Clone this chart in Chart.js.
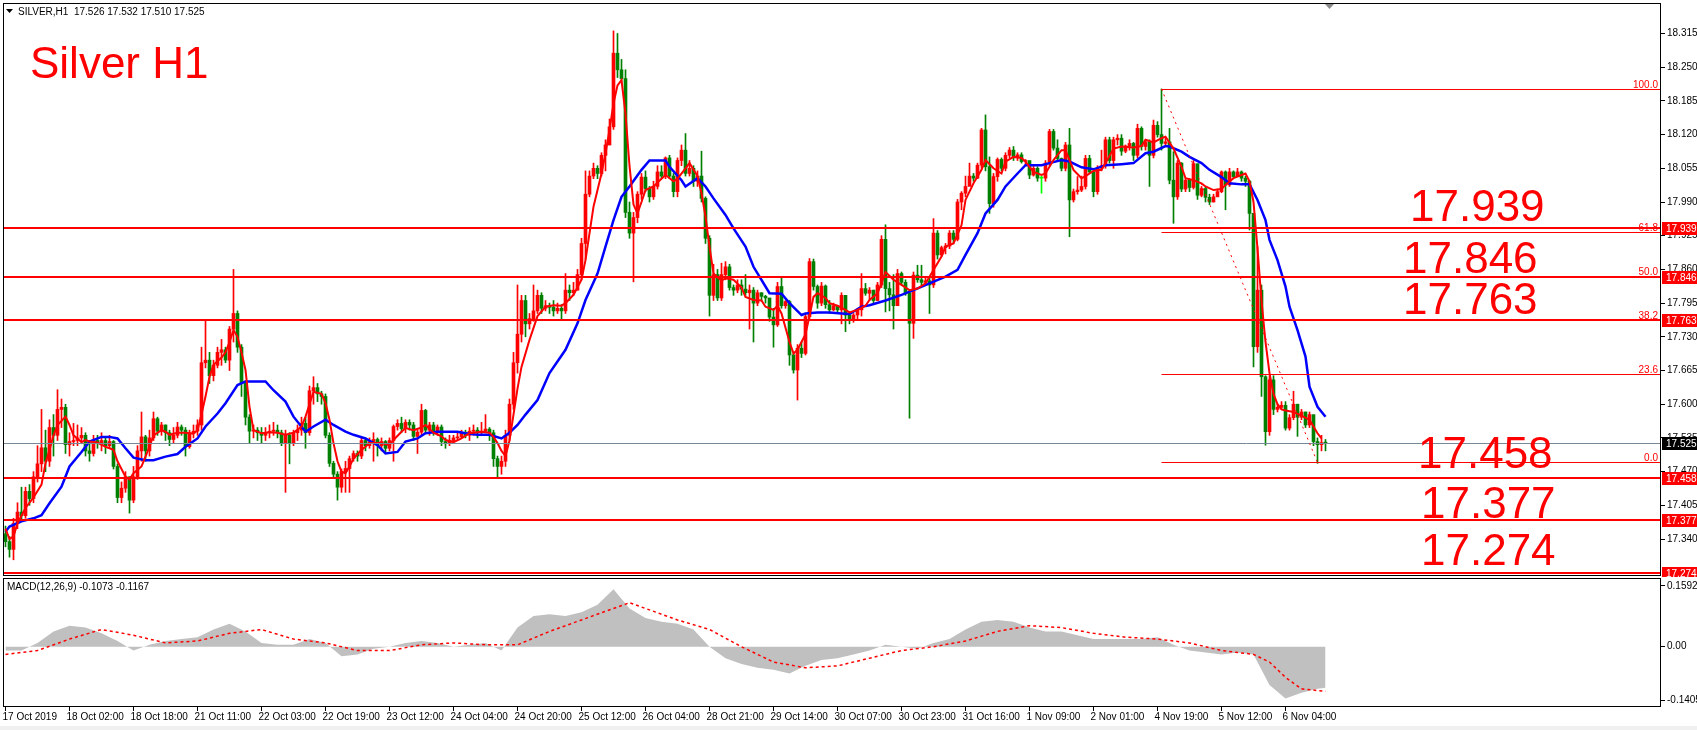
<!DOCTYPE html>
<html>
<head>
<meta charset="utf-8">
<script src="https://cdn.jsdelivr.net/npm/chart.js@4.4.1/dist/chart.umd.min.js"></script>
<style>
html, body { margin: 0; padding: 0; background: #fff; width: 1697px; height: 730px; overflow: hidden; }
#main { position: absolute; left: 0; top: 0; }
#macd { position: absolute; left: 0; top: 577px; }
#strip { position: absolute; left: 0; top: 726px; width: 1697px; height: 4px; background: #f0f0f0; }
</style>
</head>
<body>
<canvas id="main" width="1697" height="577"></canvas>
<canvas id="macd" width="1697" height="153"></canvas>
<div id="strip"></div>
<script>
// ---- data ----
const symbolHeader = 'SILVER,H1  17.526 17.532 17.510 17.525';
const macdHeader = 'MACD(12,26,9) -0.1073 -0.1167';
const chartTitle = 'Silver H1';

const firstOpen = 17.350;
const closes = [
  17.335,17.320,17.370,17.392,17.385,17.432,17.418,17.460,17.485,17.516,
  17.490,17.555,17.540,17.590,17.594,17.522,17.528,17.530,17.535,17.540,
  17.510,17.505,17.530,17.525,17.530,17.520,17.528,17.480,17.420,17.438,
  17.460,17.415,17.460,17.510,17.537,17.510,17.535,17.572,17.548,17.560,
  17.545,17.532,17.540,17.556,17.550,17.518,17.545,17.548,17.560,17.680,
  17.685,17.655,17.675,17.700,17.705,17.685,17.745,17.775,17.710,17.640,
  17.575,17.548,17.550,17.545,17.540,17.545,17.548,17.550,17.545,17.525,
  17.540,17.525,17.545,17.550,17.563,17.545,17.626,17.632,17.620,17.615,
  17.540,17.486,17.465,17.440,17.470,17.476,17.495,17.505,17.500,17.530,
  17.520,17.528,17.532,17.520,17.528,17.515,17.530,17.557,17.563,17.553,
  17.565,17.560,17.538,17.546,17.588,17.550,17.560,17.548,17.556,17.528,
  17.525,17.530,17.535,17.537,17.545,17.540,17.548,17.550,17.545,17.548,
  17.552,17.545,17.495,17.480,17.490,17.540,17.600,17.680,17.735,17.800,
  17.755,17.765,17.780,17.810,17.785,17.790,17.787,17.780,17.785,17.780,
  17.820,17.815,17.820,17.850,17.910,18.005,18.040,18.055,18.045,18.080,
  18.100,18.135,18.277,18.245,18.228,17.970,17.930,17.960,18.005,18.038,
  18.016,18.000,18.020,18.048,18.040,18.075,18.040,18.010,18.070,18.090,
  18.045,18.055,18.030,18.040,17.997,17.920,17.810,17.850,17.805,17.850,
  17.865,17.825,17.820,17.830,17.822,17.815,17.820,17.795,17.815,17.808,
  17.805,17.768,17.753,17.827,17.790,17.798,17.695,17.666,17.708,17.698,
  17.769,17.875,17.827,17.795,17.828,17.792,17.782,17.790,17.782,17.810,
  17.772,17.762,17.772,17.782,17.823,17.814,17.820,17.800,17.830,17.918,
  17.823,17.811,17.790,17.852,17.835,17.815,17.756,17.849,17.840,17.835,
  17.838,17.830,17.930,17.888,17.902,17.905,17.930,17.918,17.990,18.007,
  18.020,18.040,18.036,18.061,18.129,18.058,17.987,18.039,18.072,18.055,
  18.080,18.090,18.077,18.081,18.068,18.070,18.042,18.055,18.036,18.036,
  18.065,18.126,18.094,18.074,18.055,18.100,17.994,18.010,18.013,18.020,
  18.074,18.048,18.010,18.055,18.060,18.110,18.070,18.110,18.113,18.088,
  18.098,18.103,18.080,18.132,18.097,18.106,18.080,18.138,18.120,18.103,
  18.106,18.032,18.000,18.065,18.015,18.032,18.018,18.064,18.003,18.016,
  17.999,17.990,18.000,18.010,18.048,18.023,18.048,18.039,18.048,18.036,
  18.030,17.968,17.711,17.820,17.653,17.547,17.647,17.590,17.594,17.598,
  17.554,17.574,17.600,17.575,17.585,17.560,17.580,17.528,17.522,17.526,
  17.525
];
const highs = [
  17.365,17.345,17.380,17.410,17.440,17.440,17.445,17.470,17.520,17.590,
  17.550,17.570,17.580,17.628,17.610,17.600,17.545,17.563,17.560,17.555,
  17.545,17.530,17.540,17.540,17.545,17.535,17.540,17.530,17.485,17.450,
  17.470,17.460,17.480,17.520,17.585,17.540,17.550,17.585,17.575,17.565,
  17.560,17.550,17.555,17.565,17.560,17.555,17.550,17.560,17.570,17.710,
  17.763,17.700,17.685,17.710,17.725,17.710,17.750,17.860,17.780,17.715,
  17.645,17.580,17.560,17.555,17.555,17.555,17.560,17.565,17.560,17.550,
  17.550,17.545,17.550,17.560,17.575,17.575,17.635,17.653,17.640,17.625,
  17.620,17.545,17.490,17.470,17.475,17.490,17.500,17.510,17.510,17.535,
  17.535,17.535,17.545,17.535,17.535,17.530,17.535,17.560,17.570,17.575,
  17.570,17.570,17.565,17.550,17.600,17.590,17.565,17.565,17.560,17.560,
  17.535,17.540,17.540,17.545,17.550,17.550,17.555,17.560,17.555,17.565,
  17.580,17.555,17.550,17.500,17.500,17.550,17.610,17.700,17.830,17.810,
  17.810,17.775,17.830,17.820,17.815,17.800,17.795,17.800,17.795,17.792,
  17.852,17.830,17.835,17.860,17.920,18.050,18.050,18.065,18.060,18.085,
  18.110,18.150,18.320,18.315,18.265,18.245,17.990,17.970,18.010,18.045,
  18.050,18.020,18.030,18.060,18.060,18.077,18.080,18.045,18.075,18.100,
  18.122,18.070,18.060,18.050,18.088,18.000,17.925,17.870,17.860,17.872,
  17.875,17.870,17.830,17.840,17.840,17.850,17.830,17.825,17.820,17.815,
  17.810,17.800,17.785,17.835,17.846,17.800,17.800,17.700,17.715,17.720,
  17.775,17.881,17.880,17.830,17.835,17.830,17.800,17.795,17.790,17.815,
  17.810,17.775,17.775,17.785,17.852,17.833,17.825,17.820,17.835,17.925,
  17.946,17.835,17.850,17.860,17.855,17.840,17.815,17.855,17.868,17.868,
  17.845,17.845,17.958,17.935,17.905,17.910,17.935,17.935,17.995,18.010,
  18.040,18.065,18.045,18.065,18.132,18.158,18.077,18.045,18.075,18.075,
  18.085,18.095,18.097,18.085,18.085,18.072,18.065,18.060,18.058,18.040,
  18.070,18.130,18.130,18.110,18.075,18.105,18.132,18.015,18.039,18.040,
  18.080,18.080,18.050,18.060,18.090,18.115,18.115,18.115,18.120,18.120,
  18.100,18.110,18.105,18.140,18.135,18.110,18.110,18.148,18.145,18.208,
  18.115,18.132,18.087,18.070,18.066,18.035,18.035,18.070,18.060,18.020,
  18.020,18.005,18.005,18.015,18.050,18.050,18.055,18.050,18.055,18.050,
  18.040,18.032,17.968,17.904,17.830,17.655,17.655,17.655,17.600,17.605,
  17.605,17.580,17.625,17.600,17.590,17.585,17.585,17.575,17.535,17.540,
  17.532
];
const lows = [
  17.325,17.305,17.300,17.360,17.375,17.380,17.405,17.410,17.450,17.470,
  17.470,17.480,17.500,17.530,17.555,17.505,17.500,17.520,17.520,17.525,
  17.500,17.490,17.500,17.515,17.510,17.505,17.515,17.475,17.410,17.410,
  17.430,17.390,17.410,17.455,17.490,17.490,17.500,17.530,17.540,17.540,
  17.530,17.520,17.525,17.535,17.540,17.500,17.515,17.535,17.540,17.550,
  17.670,17.640,17.645,17.670,17.675,17.680,17.665,17.720,17.700,17.615,
  17.560,17.525,17.535,17.530,17.525,17.530,17.535,17.540,17.535,17.520,
  17.430,17.485,17.520,17.530,17.540,17.515,17.540,17.600,17.605,17.600,
  17.535,17.480,17.460,17.415,17.430,17.430,17.430,17.490,17.490,17.495,
  17.510,17.515,17.490,17.500,17.510,17.505,17.510,17.490,17.550,17.545,
  17.545,17.550,17.530,17.505,17.540,17.545,17.540,17.540,17.540,17.520,
  17.515,17.520,17.525,17.530,17.535,17.535,17.530,17.540,17.535,17.540,
  17.545,17.530,17.480,17.460,17.465,17.480,17.530,17.590,17.660,17.720,
  17.730,17.745,17.760,17.775,17.775,17.780,17.775,17.770,17.775,17.765,
  17.775,17.800,17.810,17.820,17.840,17.880,18.000,18.035,18.035,18.040,
  18.050,18.100,18.130,18.230,18.220,17.960,17.920,17.836,17.950,17.995,
  18.010,17.990,17.995,18.015,18.035,18.035,18.035,18.000,18.000,18.060,
  18.040,18.040,18.020,18.020,17.990,17.910,17.770,17.800,17.800,17.800,
  17.840,17.820,17.810,17.815,17.810,17.810,17.745,17.720,17.790,17.800,
  17.795,17.760,17.710,17.750,17.785,17.785,17.675,17.660,17.608,17.690,
  17.695,17.765,17.820,17.785,17.790,17.785,17.775,17.780,17.775,17.755,
  17.740,17.755,17.758,17.765,17.770,17.810,17.800,17.795,17.800,17.825,
  17.778,17.780,17.745,17.790,17.830,17.810,17.573,17.727,17.835,17.830,
  17.830,17.775,17.825,17.880,17.885,17.890,17.900,17.910,17.915,17.975,
  18.000,18.030,18.030,18.035,18.055,18.050,17.968,17.980,18.030,18.050,
  18.050,18.075,18.070,18.070,18.065,18.060,18.035,18.040,18.030,18.007,
  18.030,18.060,18.090,18.070,18.050,18.050,17.923,17.990,18.005,18.010,
  18.015,18.045,18.000,18.005,18.050,18.055,18.065,18.055,18.100,18.080,
  18.085,18.090,18.070,18.075,18.090,18.090,18.020,18.075,18.115,18.090,
  18.100,18.025,17.949,17.995,18.010,18.010,18.010,18.015,17.995,18.000,
  17.990,17.985,17.990,18.000,18.008,17.975,18.020,18.035,18.040,18.030,
  18.020,17.936,17.672,17.700,17.615,17.521,17.540,17.580,17.585,17.590,
  17.550,17.550,17.570,17.538,17.570,17.555,17.555,17.520,17.486,17.510,
  17.510
];

// moving averages as drawn on the chart: [bar, price]
const fastMA = [
  [0,17.360],[1,17.340],[2,17.345],[3,17.370],[4,17.385],[5,17.400],[7,17.420],[9,17.445],[10,17.486],[11,17.512],
  [12,17.540],[13,17.560],[15,17.576],[16,17.560],[17,17.540],[19,17.527],[20,17.531],[21,17.528],[23,17.526],[25,17.518],
  [27,17.512],[28,17.490],[29,17.475],[30,17.460],[31,17.455],[32,17.467],[34,17.480],[35,17.499],[36,17.518],[37,17.540],
  [39,17.550],[40,17.547],[41,17.541],[43,17.545],[45,17.545],[47,17.543],[48,17.550],[49,17.580],[50,17.615],[51,17.653],
  [52,17.676],[54,17.690],[55,17.700],[56,17.720],[57,17.743],[58,17.730],[59,17.700],[60,17.666],[61,17.595],[62,17.550],
  [64,17.544],[66,17.546],[68,17.545],[70,17.541],[72,17.545],[74,17.557],[75,17.576],[76,17.600],[77,17.624],[79,17.620],
  [80,17.602],[81,17.570],[82,17.525],[83,17.490],[84,17.470],[85,17.467],[86,17.480],[87,17.495],[89,17.512],[90,17.518],
  [91,17.525],[94,17.525],[96,17.521],[97,17.531],[99,17.547],[100,17.554],[102,17.550],[104,17.555],[105,17.560],[107,17.545],
  [109,17.538],[110,17.531],[112,17.527],[114,17.534],[116,17.544],[119,17.547],[121,17.545],[122,17.537],[123,17.525],[124,17.510],
  [125,17.500],[126,17.530],[127,17.580],[128,17.630],[129,17.672],[131,17.724],[133,17.770],[135,17.788],[137,17.791],[139,17.790],
  [140,17.795],[142,17.811],[144,17.840],[145,17.878],[147,17.981],[149,18.045],[150,18.084],[151,18.129],[152,18.180],[153,18.215],
  [154,18.225],[155,18.160],[156,18.060],[157,17.985],[158,17.968],[159,17.990],[160,18.013],[162,18.020],[164,18.035],[165,18.042],
  [167,18.030],[168,18.035],[170,18.055],[171,18.065],[173,18.040],[174,18.007],[175,17.962],[176,17.904],[177,17.852],[179,17.838],
  [180,17.843],[182,17.840],[184,17.825],[185,17.807],[187,17.801],[189,17.800],[190,17.788],[192,17.782],[193,17.790],[194,17.775],
  [196,17.720],[197,17.698],[198,17.705],[200,17.735],[201,17.770],[202,17.807],[203,17.814],[205,17.805],[206,17.795],[208,17.790],
  [210,17.782],[211,17.777],[213,17.782],[215,17.790],[216,17.801],[218,17.814],[219,17.833],[220,17.855],[222,17.840],[224,17.830],
  [226,17.820],[228,17.823],[230,17.833],[232,17.859],[234,17.885],[235,17.904],[237,17.910],[239,17.945],[240,17.994],[242,18.026],
  [244,18.052],[245,18.071],[247,18.055],[249,18.045],[250,18.068],[252,18.077],[254,18.075],[255,18.068],[257,18.048],[259,18.042],
  [260,18.045],[262,18.071],[264,18.090],[265,18.090],[267,18.052],[269,18.036],[270,18.040],[272,18.050],[274,18.052],[275,18.065],
  [277,18.093],[279,18.097],[282,18.095],[284,18.098],[285,18.110],[287,18.105],[289,18.113],[290,18.116],[292,18.093],[294,18.058],
  [295,18.036],[297,18.032],[299,18.026],[300,18.020],[302,18.013],[304,18.015],[305,18.023],[307,18.036],[309,18.042],[310,18.045],
  [311,18.030],[312,17.990],[313,17.900],[314,17.800],[315,17.720],[316,17.660],[317,17.620],[318,17.600],[319,17.590],[320,17.588],
  [322,17.585],[324,17.578],[326,17.570],[327,17.557],[328,17.544],[329,17.534]
];
const slowMA = [
  [0,17.354],[1,17.364],[4,17.374],[7,17.380],[9,17.386],[11,17.409],[14,17.441],[16,17.480],[19,17.508],[21,17.528],
  [24,17.537],[26,17.537],[28,17.534],[30,17.515],[32,17.497],[35,17.492],[37,17.492],[40,17.499],[43,17.504],[45,17.518],
  [48,17.534],[50,17.557],[53,17.582],[55,17.602],[58,17.637],[60,17.644],[65,17.644],[67,17.627],[70,17.605],[72,17.576],
  [75,17.547],[77,17.557],[80,17.570],[82,17.560],[85,17.547],[87,17.541],[90,17.534],[93,17.521],[95,17.505],[98,17.508],
  [100,17.528],[103,17.534],[105,17.544],[108,17.547],[113,17.547],[115,17.544],[118,17.541],[121,17.541],[124,17.534],[126,17.545],
  [128,17.560],[130,17.580],[133,17.608],[136,17.660],[140,17.705],[143,17.756],[145,17.801],[148,17.852],[150,17.904],[152,17.955],
  [154,18.000],[156,18.020],[159,18.052],[161,18.070],[165,18.070],[166,18.058],[169,18.032],[170,18.020],[173,18.036],[175,18.020],
  [177,17.997],[180,17.965],[182,17.939],[185,17.904],[187,17.865],[190,17.827],[191,17.814],[194,17.813],[196,17.795],[199,17.772],
  [200,17.775],[203,17.777],[206,17.777],[209,17.775],[211,17.774],[214,17.788],[216,17.791],[220,17.800],[224,17.811],[227,17.820],
  [231,17.833],[235,17.846],[238,17.859],[240,17.888],[243,17.930],[245,17.968],[248,17.994],[250,18.020],[253,18.045],[255,18.061],
  [259,18.061],[261,18.065],[264,18.071],[266,18.068],[269,18.057],[272,18.053],[275,18.061],[279,18.063],[282,18.065],[285,18.084],
  [287,18.087],[290,18.098],[291,18.097],[294,18.087],[296,18.077],[299,18.065],[301,18.052],[304,18.038],[306,18.026],[309,18.024],
  [311,18.024],[313,17.994],[315,17.955],[316,17.917],[318,17.878],[320,17.827],[321,17.788],[323,17.743],[325,17.692],[326,17.634],
  [328,17.595],[330,17.576]
];

// MACD(12,26,9): histogram and dotted signal, [bar, value]
const macdHist = [
  [0,-0.010],[4,-0.010],[8,0.010],[12,0.040],[16,0.055],[20,0.050],[24,0.035],[28,0.015],[32,-0.010],[36,0.005],
  [40,0.015],[44,0.020],[48,0.025],[52,0.045],[56,0.060],[60,0.040],[64,0.010],[68,0.005],[72,0.005],[76,0.020],
  [80,0.010],[84,-0.025],[88,-0.020],[92,-0.005],[96,0.000],[100,0.010],[104,0.015],[108,0.010],[112,0.000],[116,0.005],
  [120,0.010],[124,-0.010],[128,0.050],[132,0.080],[136,0.085],[140,0.080],[144,0.090],[148,0.110],[152,0.150],[156,0.100],
  [160,0.075],[164,0.065],[168,0.060],[172,0.045],[176,0.000],[180,-0.030],[184,-0.045],[188,-0.055],[192,-0.060],[196,-0.070],
  [200,-0.050],[204,-0.035],[208,-0.030],[212,-0.020],[216,-0.010],[220,0.005],[224,0.000],[228,-0.005],[232,0.010],[236,0.020],
  [240,0.045],[244,0.065],[248,0.070],[252,0.065],[256,0.050],[260,0.040],[264,0.040],[268,0.030],[272,0.020],[276,0.020],
  [280,0.020],[284,0.020],[288,0.025],[292,0.005],[296,-0.010],[300,-0.015],[304,-0.020],[308,-0.015],[312,-0.020],[316,-0.100],
  [320,-0.135],[324,-0.120],[328,-0.110],[330,-0.1073]
];
const macdSignal = [
  [0,-0.020],[8,-0.010],[16,0.020],[24,0.045],[32,0.030],[40,0.010],[48,0.015],[56,0.035],[64,0.045],[72,0.020],
  [80,0.010],[88,-0.010],[96,-0.010],[104,0.005],[112,0.010],[120,0.005],[128,0.005],[136,0.040],[144,0.070],[152,0.100],
  [156,0.115],[160,0.100],[168,0.070],[176,0.045],[184,0.000],[192,-0.040],[200,-0.055],[208,-0.050],[216,-0.030],[224,-0.010],
  [232,0.000],[240,0.015],[248,0.040],[256,0.055],[264,0.050],[272,0.035],[280,0.025],[288,0.020],[296,0.010],[304,-0.010],
  [312,-0.020],[316,-0.040],[320,-0.080],[324,-0.110],[330,-0.1167]
];

// horizontal levels, fibo and axis ticks
const levels = [17.939, 17.846, 17.763, 17.458, 17.377, 17.274];
const bid = 17.525;
const fibHigh = 18.208, fibHighBar = 289;
const fibLow = 17.488, fibLowBar = 328;
const fibPercents = [100.0, 61.8, 50.0, 38.2, 23.6, 0.0];
const priceTicks = [18.315,18.250,18.185,18.120,18.055,17.990,17.925,17.860,17.795,17.730,17.665,17.600,17.535,17.470,17.405,17.340];
const macdTicks = [0.1592, 0, -0.1405];
const timeLabels = ['17 Oct 2019','18 Oct 02:00','18 Oct 18:00','21 Oct 11:00','22 Oct 03:00','22 Oct 19:00','23 Oct 12:00',
  '24 Oct 04:00','24 Oct 20:00','25 Oct 12:00','26 Oct 04:00','28 Oct 21:00','29 Oct 14:00','30 Oct 07:00','30 Oct 23:00',
  '31 Oct 16:00','1 Nov 09:00','2 Nov 01:00','4 Nov 19:00','5 Nov 12:00','6 Nov 04:00'];
const timeLabelBars = [0,16,32,48,64,80,96,112,128,144,160,176,192,208,224,240,256,272,288,304,320];

// ---- layout ----
const X_MIN = -0.625, X_MAX = 413.875;
const Y_MIN = 17.2687, Y_MAX = 18.3738;
const M_MIN = -0.1575, M_MAX = 0.1796;
const bigLabelX = [1410, 1403, 1403, 1418, 1421, 1421];
const bigLabelLift = [7, 4, 6, 10, 2, 8];
const FONT = '"Liberation Sans", Arial, sans-serif';
Chart.defaults.font.family = FONT;
Chart.defaults.font.size = 10;
Chart.defaults.color = '#000';

const opens = closes.map((c, i) => i === 0 ? firstOpen : closes[i - 1]);
const colors = closes.map((c, i) => c > opens[i] ? '#ff0000' : (c < opens[i] ? '#008000' : '#00ff00'));
const pts = arr => arr.map(p => ({x: p[0], y: p[1]}));

// keep the plot area exactly where MT4 puts it (no label overhang padding)
function fixWidth(w) {
  return s => { s.width = w; s.paddingTop = 0; s.paddingBottom = 0; };
}

function hline(ctx, x1, x2, y) {
  ctx.beginPath(); ctx.moveTo(x1, y); ctx.lineTo(x2, y); ctx.stroke();
}

const overlay = {
  id: 'overlay',
  afterDatasetsDraw(chart) {
    const {ctx, chartArea: a, scales: {x, y}} = chart;
    ctx.save();
    ctx.beginPath(); ctx.rect(a.left, a.top, a.right - a.left, a.bottom - a.top); ctx.clip();

    // bid line
    ctx.strokeStyle = '#778899'; ctx.lineWidth = 1;
    hline(ctx, a.left, a.right, Math.round(y.getPixelForValue(bid)) + 0.5);

    // fibo levels
    const fx = x.getPixelForValue(fibHighBar);
    ctx.strokeStyle = '#ff0000'; ctx.fillStyle = '#ff0000';
    ctx.font = '10px ' + FONT; ctx.textAlign = 'right'; ctx.textBaseline = 'alphabetic';
    fibPercents.forEach(p => {
      const py = Math.round(y.getPixelForValue(fibLow + (fibHigh - fibLow) * p / 100)) + 0.5;
      hline(ctx, fx, a.right, py);
      ctx.fillText(p.toFixed(1), a.right - 3, py - 2);
    });
    // fibo base, dotted
    ctx.setLineDash([2, 4]);
    ctx.beginPath();
    ctx.moveTo(fx, y.getPixelForValue(fibHigh));
    ctx.lineTo(x.getPixelForValue(fibLowBar), y.getPixelForValue(fibLow));
    ctx.stroke();
    ctx.setLineDash([]);

    // support / resistance lines
    ctx.lineWidth = 2;
    levels.forEach(v => hline(ctx, a.left, a.right, Math.round(y.getPixelForValue(v))));

    // big level captions
    ctx.font = '44px ' + FONT; ctx.textAlign = 'left';
    levels.forEach((v, i) => ctx.fillText(v.toFixed(3), bigLabelX[i], y.getPixelForValue(v) - bigLabelLift[i]));
    ctx.restore();
  },
  afterDraw(chart) {
    const {ctx, chartArea: a, scales: {y}, width} = chart;
    ctx.save();
    ctx.strokeStyle = '#000'; ctx.lineWidth = 1;
    ctx.strokeRect(a.left + 0.5, a.top + 0.5, a.right - a.left - 1, a.bottom - a.top - 1);

    // price boxes on the axis
    ctx.font = '10px ' + FONT; ctx.textAlign = 'left'; ctx.textBaseline = 'middle';
    const box = (v, bg) => {
      const py = Math.round(y.getPixelForValue(v));
      ctx.fillStyle = bg; ctx.fillRect(a.right + 1, py - 6, width - a.right - 1, 13);
      ctx.fillStyle = '#fff'; ctx.fillText(v.toFixed(3), a.right + 5, py + 1);
    };
    levels.forEach(v => box(v, '#ff0000'));
    box(bid, '#000000');

    // header
    ctx.fillStyle = '#000';
    ctx.beginPath(); ctx.moveTo(6, 9); ctx.lineTo(13, 9); ctx.lineTo(9.5, 13); ctx.closePath(); ctx.fill();
    ctx.textBaseline = 'middle';
    ctx.fillText(symbolHeader, 18, 12);

    // shift marker
    ctx.fillStyle = '#8a8a8a';
    ctx.beginPath(); ctx.moveTo(1325, 4); ctx.lineTo(1334, 4); ctx.lineTo(1329.5, 9); ctx.closePath(); ctx.fill();

    ctx.fillStyle = '#ff0000';
    ctx.font = '44px ' + FONT; ctx.textBaseline = 'alphabetic';
    ctx.fillText(chartTitle, 30, 78);
    ctx.restore();
  }
};

new Chart(document.getElementById('main'), {
  type: 'bar',
  data: {
    datasets: [
      {type: 'line', data: pts(fastMA), borderColor: '#ff0000', borderWidth: 2, pointRadius: 0, tension: 0, order: 0},
      {type: 'line', data: pts(slowMA), borderColor: '#0000ff', borderWidth: 2.5, pointRadius: 0, tension: 0, order: 1},
      {data: closes.map((c, i) => ({x: i, y: [opens[i], c]})), backgroundColor: colors,
       barThickness: 3, minBarLength: 1, grouped: false, order: 2},
      {data: closes.map((c, i) => ({x: i, y: [lows[i], highs[i]]})), backgroundColor: colors,
       barThickness: 1, grouped: false, order: 3}
    ]
  },
  options: {
    responsive: false, animation: false, events: [],
    layout: {padding: {left: 3, top: 3, right: 0, bottom: 1}},
    plugins: {legend: {display: false}, tooltip: {enabled: false}},
    scales: {
      x: {type: 'linear', min: X_MIN, max: X_MAX, offset: false, display: false},
      y: {
        position: 'right', min: Y_MIN, max: Y_MAX,
        afterBuildTicks: s => { s.ticks = priceTicks.map(v => ({value: v})); },
        afterFit: fixWidth(36),
        ticks: {callback: v => v.toFixed(3), padding: 2, color: '#000'},
        grid: {drawOnChartArea: false, tickLength: 4, color: '#000'},
        border: {display: false}
      }
    }
  },
  plugins: [overlay]
});

const macdOverlay = {
  id: 'macdOverlay',
  afterDraw(chart) {
    const {ctx, chartArea: a} = chart;
    ctx.save();
    ctx.strokeStyle = '#000'; ctx.lineWidth = 1;
    ctx.strokeRect(a.left + 0.5, a.top + 0.5, a.right - a.left - 1, a.bottom - a.top - 1);
    ctx.fillStyle = '#000'; ctx.font = '10px ' + FONT; ctx.textBaseline = 'middle';
    ctx.fillText(macdHeader, 7, a.top + 9);
    ctx.restore();
  }
};

new Chart(document.getElementById('macd'), {
  type: 'line',
  data: {
    datasets: [
      {data: pts(macdSignal), borderColor: '#ff0000', borderWidth: 1.5, borderDash: [3, 3], pointRadius: 0, order: 0},
      {data: pts(macdHist), borderWidth: 0, borderColor: '#c0c0c0', backgroundColor: '#c0c0c0', fill: 'origin', pointRadius: 0, order: 1}
    ]
  },
  options: {
    responsive: false, animation: false, events: [],
    layout: {padding: {left: 3, top: 1, right: 0, bottom: 0}},
    plugins: {legend: {display: false}, tooltip: {enabled: false}},
    scales: {
      x: {
        type: 'linear', min: X_MIN, max: X_MAX, offset: false,
        afterBuildTicks: s => { s.ticks = timeLabelBars.map(v => ({value: v})); },
        afterFit: s => { s.height = 23; s.paddingLeft = 0; s.paddingRight = 0; },
        ticks: {callback: (v, i) => timeLabels[i], align: 'start', maxRotation: 0, autoSkip: false, padding: 0, labelOffset: -3, color: '#000'},
        grid: {drawOnChartArea: false, tickLength: 4, color: '#000'},
        border: {display: false}
      },
      y: {
        position: 'right', min: M_MIN, max: M_MAX,
        afterBuildTicks: s => { s.ticks = macdTicks.map(v => ({value: v})); },
        afterFit: fixWidth(36),
        ticks: {callback: v => v === 0 ? '0.00' : v.toFixed(4), padding: 2, color: '#000'},
        grid: {drawOnChartArea: false, tickLength: 4, color: '#000'},
        border: {display: false}
      }
    }
  },
  plugins: [macdOverlay]
});
</script>
</body>
</html>
